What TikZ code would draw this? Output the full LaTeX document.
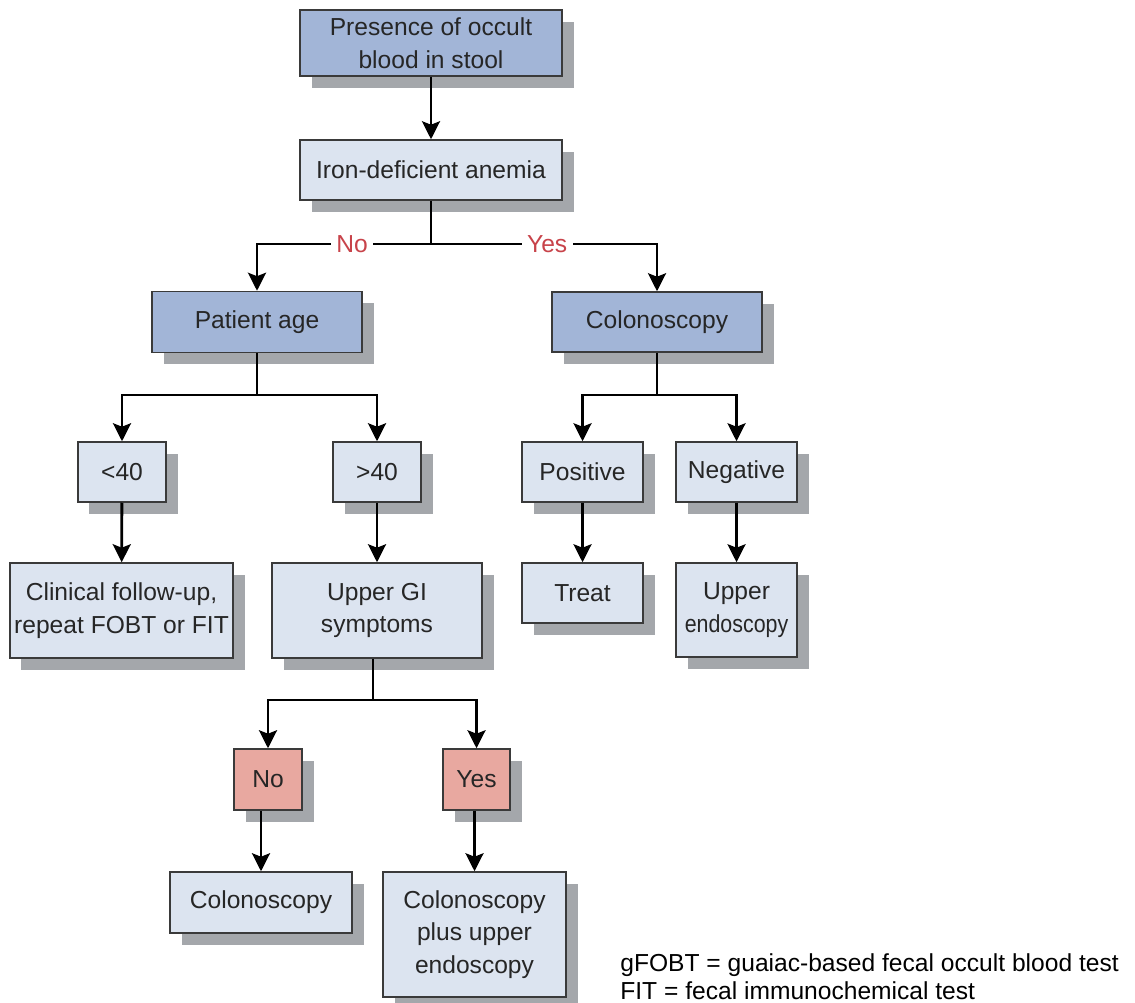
\documentclass[tikz,border=0pt]{standalone}
\usepackage{fontspec}
\usepackage{graphicx}
\setmainfont{Liberation Sans}
\usetikzlibrary{arrows.meta,shadows}

\definecolor{darkfill}{HTML}{A2B5D7}
\definecolor{lightfill}{HTML}{DCE4F0}
\definecolor{pinkfill}{HTML}{E8A8A0}
\definecolor{shadowgrey}{HTML}{A4A7AB}
\definecolor{edgegrey}{HTML}{3A3A3A}
\definecolor{labelred}{HTML}{C8434A}

\tikzset{
  box/.style={draw=edgegrey,line width=0.85pt,text=black!85,align=center,
    inner sep=0pt,font=\fontsize{14}{18.5}\selectfont,
    drop shadow={shadow xshift=0.23cm,shadow yshift=-0.24cm,fill=shadowgrey,opacity=1}},
  darkbox/.style={box,fill=darkfill},
  lightbox/.style={box,fill=lightfill},
  pinkbox/.style={box,fill=pinkfill},
  arr/.style={line width=1.6pt,-{Stealth[length=0.36cm,width=0.36cm,inset=0.07cm]}},
  link/.style={line width=1.6pt},
  lbl/.style={fill=white,text=labelred,inner sep=3pt,font=\fontsize{14}{17}\selectfont}
}

\begin{document}
\begin{tikzpicture}[x=0.02cm,y=-0.02cm,line join=miter]
\useasboundingbox (0,0) rectangle (1135,1003);

\node[darkbox,minimum width=262*0.02cm,minimum height=66*0.02cm] (stool) at (431,43) {Presence of occult\\blood in stool};
\node[lightbox,minimum width=262*0.02cm,minimum height=60*0.02cm] (iron) at (431,170) {Iron-deficient anemia};

\node[darkbox,minimum width=210*0.02cm,minimum height=61*0.02cm] (age) at (257,322) {Patient age};
\node[darkbox,minimum width=210*0.02cm,minimum height=60*0.02cm] (colon) at (657,322) {Colonoscopy};

\node[lightbox,minimum width=88*0.02cm,minimum height=60*0.02cm] (young) at (122,472) {<40};
\node[lightbox,minimum width=88*0.02cm,minimum height=60*0.02cm] (old) at (377,472) {>40};
\node[lightbox,minimum width=121*0.02cm,minimum height=60*0.02cm] (pos) at (582.5,472) {Positive};
\node[lightbox,minimum width=121*0.02cm,minimum height=60*0.02cm] (neg) at (736.5,472) {Negative};

\node[lightbox,minimum width=223*0.02cm,minimum height=95*0.02cm] (followup) at (121.5,610.5) {Clinical follow-up,\\repeat FOBT or FIT};
\node[lightbox,minimum width=210*0.02cm,minimum height=95*0.02cm] (upgi) at (377,610.5) {Upper GI\\symptoms};
\node[lightbox,minimum width=121*0.02cm,minimum height=60*0.02cm] (treat) at (582.5,593) {Treat};
\node[lightbox,minimum width=121*0.02cm,minimum height=94*0.02cm] (upendo) at (736.5,610) {Upper\\\scalebox{0.87}[1]{endoscopy}};

\node[pinkbox,minimum width=68*0.02cm,minimum height=61*0.02cm] (nosym) at (268,779.5) {No};
\node[pinkbox,minimum width=67*0.02cm,minimum height=61*0.02cm] (yessym) at (476.5,779.5) {Yes};

\node[lightbox,minimum width=182*0.02cm,minimum height=61*0.02cm] (colonb) at (261,902.5) {Colonoscopy};
\node[lightbox,minimum width=183*0.02cm,minimum height=125*0.02cm] (colonplus) at (474.5,934.5) {Colonoscopy\\plus upper\\endoscopy};

% junctions of the split lines
\coordinate (j1) at (431,244);
\coordinate (j2) at (257,395);
\coordinate (j3) at (657,395);
\coordinate (j4) at (373,700);

\draw[arr] (stool) -- (iron);
\draw[link] (iron.south) -- (j1);
\draw[arr] (j1) -| node[lbl,pos=0.227] {No} (age.north);
\draw[arr] (j1) -| node[lbl,pos=0.257] {Yes} (colon.north);

\draw[link] (age.south) -- (j2);
\draw[arr] (j2) -| (young.north);
\draw[arr] (j2) -| (old.north);
\draw[link] (colon.south) -- (j3);
\draw[arr] (j3) -| (pos.north);
\draw[arr] (j3) -| (neg.north);

\draw[arr] (young) -- (followup);
\draw[arr] (old) -- (upgi);
\draw[arr] (pos) -- (treat);
\draw[arr] (neg.south) -- (upendo.north);

\draw[link] (upgi.south -| j4) -- (j4);
\draw[arr] (j4) -| (nosym.north);
\draw[arr] (j4) -| (yessym.north);
\draw[arr] (nosym.south -| colonb.north) -- (colonb.north);
\draw[arr] (yessym.south -| colonplus.north) -- (colonplus.north);

\node[anchor=base west,inner sep=0pt,font=\fontsize{14}{17}\selectfont] (key1) at (620,971) {gFOBT = guaiac-based fecal occult blood test};
\node[anchor=base west,inner sep=0pt,font=\fontsize{14}{17}\selectfont] (key2) at (620,999) {FIT = fecal immunochemical test};
\end{tikzpicture}
\end{document}
